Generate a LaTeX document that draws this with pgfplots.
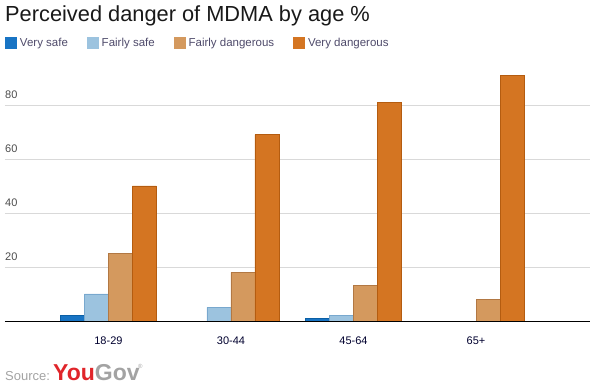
\documentclass[border=0pt]{standalone}
\usepackage{pgfplots}
\pgfplotsset{compat=1.18}
\usepackage{fontspec}
\setmainfont{Liberation Sans}
\definecolor{vsF}{HTML}{1874C4}\definecolor{vsD}{HTML}{0B5FA5}
\definecolor{fsF}{HTML}{9CC3DF}\definecolor{fsD}{HTML}{78A8CE}
\definecolor{fdF}{HTML}{D4995E}\definecolor{fdD}{HTML}{B27843}
\definecolor{vdF}{HTML}{D47522}\definecolor{vdD}{HTML}{B45C10}
\definecolor{legtxt}{HTML}{4E4A6A}
\definecolor{gridc}{HTML}{D9D9D9}
\definecolor{ygred}{HTML}{E0252A}
\definecolor{yggray}{HTML}{A3A3A3}
\begin{document}
\begin{tikzpicture}[x=1pt,y=1pt]
\useasboundingbox (0,0) rectangle (598,386);
\node[anchor=base west, inner sep=0pt, font=\fontsize{21.8}{23}\selectfont, text=black!90] at (5,364) {Perceived danger of MDMA by age \%};
\begin{axis}[
  at={(5pt,65pt)}, anchor=south west,
  scale only axis, width=585pt, height=270pt,
  xmin=-0.844, xmax=3.93, ymin=0, ymax=100,
  axis y line*=left, y axis line style={draw=none},
  axis x line*=bottom,
  x axis line style={-, black, line width=0.9pt},
  xtick={0,1,2,3}, xticklabels={18-29,30-44,45-64,65+},
  major tick length=0pt,
  xticklabel style={font=\fontsize{11}{12}\selectfont, text=black!70!blue!60!black, inner sep=0pt, anchor=north, yshift=-16pt},
  ytick={20,40,60,80},
  ymajorgrids, grid style={gridc, line width=0.8pt},
  /pgf/number format/assume math mode=true,
  yticklabel style={font=\fontsize{11}{12}\selectfont, text=black!70, inner sep=0pt, anchor=base west, yshift=6pt},
  ybar=0pt, bar width=0.196,
  legend columns=4,
  legend style={at={(0,1.0296)}, anchor=west, draw=none, fill=none, inner sep=0pt,
    font=\fontsize{11.5}{12}\selectfont, text=legtxt,
    /tikz/every odd column/.append style={column sep=3pt},
    /tikz/every even column/.append style={column sep=19pt},
    nodes={inner sep=0pt, outer sep=0pt}},
  legend cell align=left,
]
\addplot[fill=vsF, draw=vsD, line width=0.8pt, bar shift=-0.294,
  legend image code/.code={\fill[vsF] (0pt,-5.5pt) rectangle (11pt,5.5pt);}]
  coordinates {(0,2) (2,1)};
\addlegendentry{Very safe}
\addplot[fill=fsF, draw=fsD, line width=0.8pt, bar shift=-0.098,
  legend image code/.code={\fill[fsF] (0pt,-5.5pt) rectangle (11pt,5.5pt);}]
  coordinates {(0,10) (1,5) (2,2)};
\addlegendentry{Fairly safe}
\addplot[fill=fdF, draw=fdD, line width=0.8pt, bar shift=0.098,
  legend image code/.code={\fill[fdF] (0pt,-5.5pt) rectangle (11pt,5.5pt);}]
  coordinates {(0,25) (1,18) (2,13) (3,8)};
\addlegendentry{Fairly dangerous}
\addplot[fill=vdF, draw=vdD, line width=0.8pt, bar shift=0.294,
  legend image code/.code={\fill[vdF] (0pt,-5.5pt) rectangle (11pt,5.5pt);}]
  coordinates {(0,50) (1,69) (2,81) (3,91)};
\addlegendentry{Very dangerous}
\end{axis}
\node[anchor=base west, inner sep=0pt, font=\fontsize{13}{15}\selectfont, text=yggray] at (5,5) {Source:};
\node[anchor=base west, inner sep=0pt, font=\fontsize{23}{24}\selectfont\bfseries] at (53,5) {\textcolor{ygred}{You}\textcolor{yggray}{Gov}};
\node[anchor=base west, inner sep=0pt, font=\fontsize{6}{6}\selectfont, text=yggray] at (138,17) {\textregistered};
\end{tikzpicture}
\end{document}
